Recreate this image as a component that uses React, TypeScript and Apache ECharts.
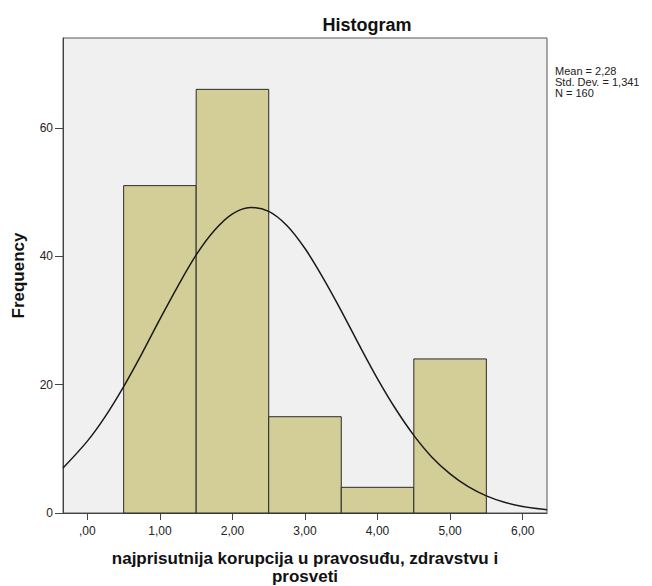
import React, { useEffect, useRef } from "react";
import * as echarts from "echarts";

const binCenters = [1, 2, 3, 4, 5];
const frequencies = [51, 66, 15, 4, 24];
const binWidth = 1;

const curveX = [-0.336, 0, 0.25, 0.5, 0.75, 1, 1.25, 1.5, 1.75, 2, 2.25, 2.5, 2.75, 3, 3.25, 3.5, 3.75, 4, 4.25, 4.5, 4.75, 5, 5.25, 5.5, 5.75, 6, 6.336];
const curveY = [7.0, 11.2, 15.1, 19.7, 24.8, 30.2, 35.4, 40.2, 44.0, 46.6, 47.6, 47.0, 44.8, 41.2, 36.6, 31.5, 26.1, 20.9, 16.2, 12.1, 8.7, 6.1, 4.1, 2.67, 1.67, 1.02, 0.5];

const xTicks = [0, 1, 2, 3, 4, 5, 6];
const yTicks = [0, 20, 40, 60];
const statsLines = ["Mean = 2,28", "Std. Dev. = 1,341", "N = 160"];

const FONT = "'Liberation Sans', Arial, sans-serif";

export default function App() {
  const ref = useRef<HTMLDivElement>(null);
  useEffect(() => {
    if (!ref.current) return;
    const chart = echarts.init(ref.current, null, { renderer: "svg" });
    const barData = binCenters.map((c, i) => [c - binWidth / 2, c + binWidth / 2, frequencies[i]]);
    const curveData = curveX.map((x, i) => [x, curveY[i]]);
    chart.setOption({
      animation: false,
      backgroundColor: "#ffffff",
      title: {
        text: "Histogram",
        left: 362,
        top: 11,
        textAlign: "center",
        textStyle: { fontFamily: FONT, fontSize: 18, fontWeight: "bold", color: "#111" },
      },
      grid: {
        left: 63,
        right: 105,
        top: 38,
        bottom: 73,
        show: true,
        containLabel: false,
        outerBoundsMode: "none",
        backgroundColor: "#f0f0f0",
        borderColor: "#555",
        borderWidth: 1,
      },
      xAxis: {
        type: "value",
        min: -0.336,
        max: 6.336,
        splitLine: { show: false },
        axisLine: { show: true, onZero: false, lineStyle: { color: "#444", width: 1 } },
        axisTick: { show: true, customValues: xTicks, length: 7, lineStyle: { color: "#444" } },
        axisLabel: {
          customValues: xTicks,
          margin: 12,
          fontFamily: FONT,
          fontSize: 12,
          color: "#222",
          formatter: (v: number) => (v === 0 ? ",00" : v.toFixed(2).replace(".", ",")),
        },
        name: "najprisutnija korupcija u pravosuđu, zdravstvu i\nprosveti",
        nameLocation: "middle",
        nameGap: 36,
        nameTextStyle: { fontFamily: FONT, fontSize: 17, fontWeight: "bold", color: "#111", lineHeight: 18 },
      },
      yAxis: {
        type: "value",
        min: 0,
        max: 74,
        splitLine: { show: false },
        axisLine: { show: true, onZero: false, lineStyle: { color: "#444", width: 1 } },
        axisTick: { show: true, customValues: yTicks, length: 8, lineStyle: { color: "#444" } },
        axisLabel: {
          customValues: yTicks,
          margin: 10,
          fontFamily: FONT,
          fontSize: 12,
          color: "#222",
        },
        name: "Frequency",
        nameLocation: "middle",
        nameGap: 36,
        nameTextStyle: { fontFamily: FONT, fontSize: 17, fontWeight: "bold", color: "#111" },
      },
      graphic: [
        {
          type: "text",
          left: 555,
          top: 65,
          style: {
            text: statsLines.join("\n"),
            font: `11px ${FONT}`,
            lineHeight: 11,
            fill: "#222",
          },
        },
      ],
      series: [
        {
          type: "custom",
          data: barData,
          encode: { x: [0, 1], y: 2 },
          renderItem: (params: any, api: any) => {
            const x0 = api.value(0);
            const x1 = api.value(1);
            const y = api.value(2);
            const p0 = api.coord([x0, y]);
            const p1 = api.coord([x1, 0]);
            return {
              type: "rect",
              shape: { x: p0[0], y: p0[1], width: p1[0] - p0[0], height: p1[1] - p0[1] },
              style: { fill: "#d3ce97", stroke: "#2a2a2a", lineWidth: 1 },
            };
          },
          z: 2,
        },
        {
          type: "line",
          data: curveData,
          smooth: 0.3,
          showSymbol: false,
          lineStyle: { color: "#1a1a1a", width: 1.5 },
          z: 3,
        },
      ],
    });
    return () => chart.dispose();
  }, []);
  return <div ref={ref} style={{ width: 652, height: 586, position: "absolute", left: 0, top: 0 }} />;
}
